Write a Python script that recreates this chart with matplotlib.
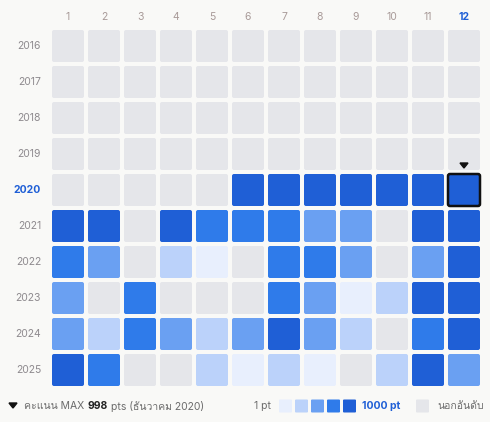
import matplotlib
matplotlib.use("Agg")
from matplotlib import pyplot as plt
from matplotlib import font_manager
from matplotlib.patches import FancyBboxPatch, Polygon
from fontTools.ttLib import TTFont

# look for an installed family that has Thai glyphs
thai = []
for f in font_manager.fontManager.ttflist:
    try:
        tt = TTFont(f.fname, fontNumber=0, lazy=True)
        if ord('ก') in tt.getBestCmap():
            thai.append(f.name)
            break
    except Exception:
        pass
plt.rcParams['font.family'] = ['Inter', 'DejaVu Sans'] + thai

years = ['2016', '2017', '2018', '2019', '2020', '2021', '2022', '2023', '2024', '2025']
months = ['1', '2', '3', '4', '5', '6', '7', '8', '9', '10', '11', '12']
# 0 = not ranked, 1..5 = intensity level
levels = [
    [0, 0, 0, 0, 0, 0, 0, 0, 0, 0, 0, 0],
    [0, 0, 0, 0, 0, 0, 0, 0, 0, 0, 0, 0],
    [0, 0, 0, 0, 0, 0, 0, 0, 0, 0, 0, 0],
    [0, 0, 0, 0, 0, 0, 0, 0, 0, 0, 0, 0],
    [0, 0, 0, 0, 0, 5, 5, 5, 5, 5, 5, 5],
    [5, 5, 0, 5, 4, 4, 4, 3, 3, 0, 5, 5],
    [4, 3, 0, 2, 1, 0, 4, 4, 3, 0, 3, 5],
    [3, 0, 4, 0, 0, 0, 4, 3, 1, 2, 5, 5],
    [3, 2, 4, 3, 2, 3, 5, 3, 2, 0, 4, 5],
    [5, 4, 0, 0, 2, 1, 2, 1, 0, 2, 5, 3],
]
selected = (4, 11)
colors = ['#e5e6ea', '#e8effd', '#bbd2fa', '#6aa0f2', '#2f7bea', '#1f5fd6']

fig = plt.figure(figsize=(4.9, 4.22), dpi=100, facecolor='#f9f9f7')
ax = fig.add_axes([0, 0, 1, 1])
ax.set_xlim(0, 490)
ax.set_ylim(422, 0)
ax.axis('off')

x0, y0, step, size = 52, 30, 36, 32
for r, row in enumerate(levels):
    for c, lv in enumerate(row):
        sel = (r, c) == selected
        ax.add_patch(FancyBboxPatch((x0 + c*step + 2, y0 + r*step + 2), size - 4, size - 4,
                                    boxstyle='round,pad=2', fc=colors[lv],
                                    ec='#111111' if sel else 'none', lw=1.8 if sel else 0))

for c, m in enumerate(months):
    hl = c == selected[1]
    ax.text(x0 + c*step + size/2, 17, m, ha='center', va='center', fontsize=7.5,
            color='#1f5fd6' if hl else '#a89a98', fontweight='bold' if hl else 'normal')
for r, y in enumerate(years):
    hl = r == selected[0]
    ax.text(41, y0 + r*step + size/2, y, ha='right', va='center', fontsize=7.5,
            color='#1f5fd6' if hl else '#8e8a8e', fontweight='bold' if hl else 'normal')

tx = x0 + selected[1]*step + size/2
ty = y0 + selected[0]*step - 8
ax.add_patch(Polygon([[tx - 4, ty - 3], [tx + 4, ty - 3], [tx, ty + 2]], color='#111111'))

# footer, pieces chained left to right
ly = 406
ax.add_patch(Polygon([[9, ly - 3], [17, ly - 3], [13, ly + 2]], color='#111111'))
renderer = fig.canvas.get_renderer()
x = 24
for s, col, wt in [('คะแนน MAX', '#6b6b6b', 'normal'), ('998', '#222222', 'bold'),
                   ('pts (ธันวาคม 2020)', '#6b6b6b', 'normal')]:
    t = ax.text(x, ly, s, ha='left', va='center', fontsize=7.5, color=col, fontweight=wt)
    bb = t.get_window_extent(renderer)
    x = bb.x1 + 3
ax.text(271, ly, '1 pt', ha='right', va='center', fontsize=7.5, color='#6b6b6b')
for i, col in enumerate(colors[1:]):
    ax.add_patch(FancyBboxPatch((279 + i*16 + 1, ly - 6.5 + 1), 11, 11,
                                boxstyle='round,pad=1', fc=col, ec='none'))
ax.text(362, ly, '1000 pt', ha='left', va='center', fontsize=7.5, color='#1f5fd6', fontweight='bold')
ax.add_patch(FancyBboxPatch((417, ly - 6.5 + 1), 11, 11, boxstyle='round,pad=1',
                            fc=colors[0], ec='none'))
ax.text(484, ly, 'นอกอันดับ', ha='right', va='center', fontsize=7.5, color='#6b6b6b')

fig.savefig('out.png', dpi=100, facecolor=fig.get_facecolor())
